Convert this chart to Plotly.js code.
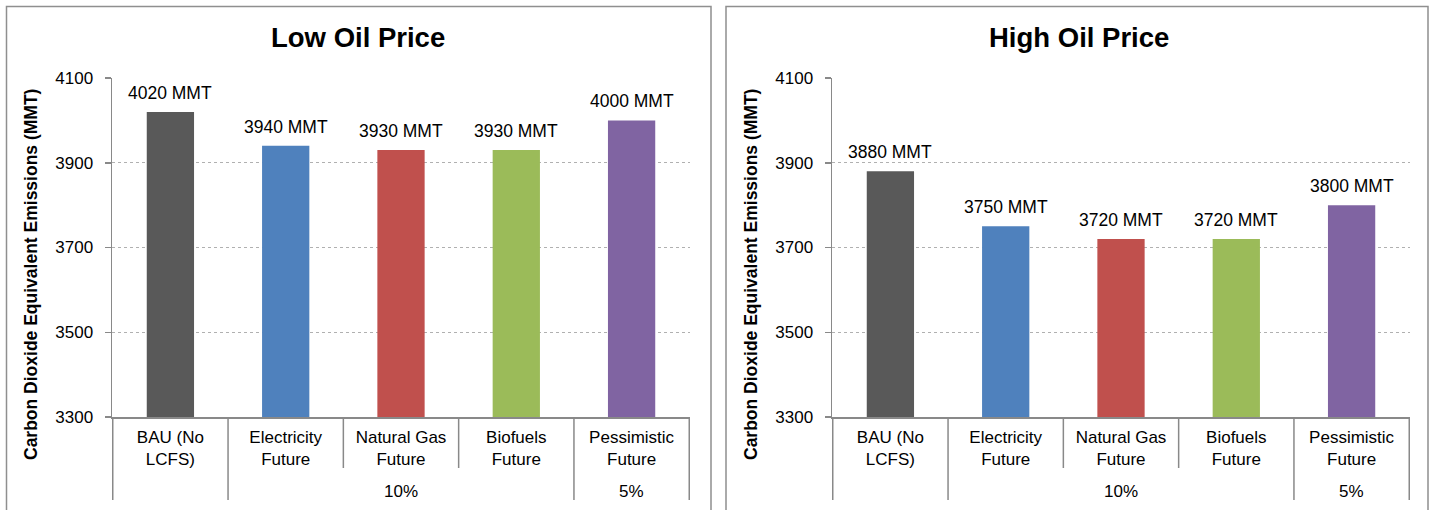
<!DOCTYPE html>
<html>
<head>
<meta charset="utf-8">
<script src="https://cdn.plot.ly/plotly-3.0.1.min.js"></script>
<style>html,body{margin:0;padding:0;background:#fff;}#chart{width:1435px;height:510px;}</style>
</head>
<body>
<div id="chart"></div>
<script>
// ---- data ----
const categories = ["BAU (No<br>LCFS)", "Electricity<br>Future", "Natural Gas<br>Future", "Biofuels<br>Future", "Pessimistic<br>Future"];
const groups = ["", "10%", "10%", "10%", "5%"];
const lowOil = [4020, 3940, 3930, 3930, 4000];
const highOil = [3880, 3750, 3720, 3720, 3800];
const barColors = ["#595959", "#4F81BD", "#C0504D", "#9BBB59", "#8064A2"];
const panelTitles = ["Low Oil Price", "High Oil Price"];
const yTitle = "Carbon Dioxide Equivalent Emissions (MMT)";
const yTicks = [3300, 3500, 3700, 3900, 4100];

// ---- layout helpers (pixel geometry of the page) ----
const W = 1435, H = 510;
const px = v => v / W;
const py = v => 1 - v / H;
const FONT = "Liberation Sans, Arial, sans-serif";
const GRAY = "#898989";

const panels = [
  {vals: lowOil, xa: "x", ya: "y", dom: [px(112), px(690)], left: 6.5, right: 711, ytx: 31, titleX: 358},
  {vals: highOil, xa: "x2", ya: "y2", dom: [px(832), px(1410)], left: 726, right: 1428, ytx: 751, titleX: 1079}
];

const traces = [];
const annotations = [];
const shapes = [];

panels.forEach((p, k) => {
  traces.push({
    type: "bar",
    x: categories,
    y: p.vals,
    xaxis: p.xa,
    yaxis: p.ya,
    marker: {color: barColors},
    hoverinfo: "x+y"
  });
  // value labels
  p.vals.forEach((v, i) => {
    annotations.push({
      xref: p.xa, yref: p.ya, x: categories[i], y: v,
      text: v + " MMT", showarrow: false, xanchor: "center", yanchor: "middle", yshift: 19,
      font: {family: FONT, size: 17.5, color: "#000"}
    });
  });
  // group labels (outer level)
  let start = 0;
  for (let i = 1; i <= groups.length; i++) {
    if (i === groups.length || groups[i] !== groups[start]) {
      if (groups[start] !== "") {
        annotations.push({
          xref: p.xa, yref: "paper", x: (start + i - 1) / 2, y: py(491),
          text: groups[start], showarrow: false, xanchor: "center", yanchor: "middle",
          font: {family: FONT, size: 17, color: "#000"}
        });
      }
      start = i;
    }
  }
  // separators between categories
  for (let i = 0; i <= categories.length; i++) {
    const long = (i === 0 || i === categories.length || groups[i] !== groups[i - 1]);
    shapes.push({
      type: "line", xref: p.xa, yref: "paper",
      x0: i - 0.5, x1: i - 0.5, y0: py(417), y1: py(long ? 500 : 468),
      line: {color: GRAY, width: 1.5}
    });
  }
  // panel title
  annotations.push({
    xref: "paper", yref: "paper", x: px(p.titleX), y: py(38),
    text: "<b>" + panelTitles[k] + "</b>", showarrow: false, xanchor: "center", yanchor: "middle",
    font: {family: FONT, size: 27.5, color: "#000"}
  });
  // y-axis title
  annotations.push({
    xref: "paper", yref: "paper", x: px(p.ytx), y: py(275),
    text: "<b>" + yTitle + "</b>", showarrow: false, textangle: -90,
    xanchor: "center", yanchor: "middle",
    font: {family: FONT, size: 17.5, color: "#000"}
  });
  // panel border
  shapes.push({
    type: "rect", xref: "paper", yref: "paper",
    x0: px(p.left), x1: px(p.right), y0: -0.1, y1: py(6.5),
    line: {color: "#8f8f8f", width: 1.5}
  });
});

const xaxisBase = {
  type: "category", showline: true, linecolor: GRAY, linewidth: 1.5,
  ticks: "", showgrid: false, fixedrange: true,
  tickfont: {family: FONT, size: 17, color: "#000"},
  ticklabelstandoff: 4
};
const yaxisBase = {
  range: [3300, 4100], tickvals: yTicks, showline: true, linecolor: GRAY, linewidth: 1.5,
  ticks: "outside", ticklen: 6, tickcolor: GRAY, tickwidth: 1.5,
  showgrid: true, gridcolor: "#b0b0b0", griddash: "dot", gridwidth: 1,
  zeroline: false, fixedrange: true,
  tickfont: {family: FONT, size: 17, color: "#000"},
  ticklabelstandoff: 8,
  domain: [py(417), py(78)]
};

const layout = {
  width: W, height: H,
  margin: {l: 0, r: 0, t: 0, b: 0},
  paper_bgcolor: "#fff", plot_bgcolor: "#fff",
  showlegend: false,
  bargap: 0.59,
  xaxis: Object.assign({}, xaxisBase, {domain: panels[0].dom, anchor: "y"}),
  xaxis2: Object.assign({}, xaxisBase, {domain: panels[1].dom, anchor: "y2"}),
  yaxis: Object.assign({}, yaxisBase, {anchor: "x"}),
  yaxis2: Object.assign({}, yaxisBase, {anchor: "x2"}),
  annotations: annotations,
  shapes: shapes
};

Plotly.newPlot("chart", traces, layout, {displayModeBar: false, staticPlot: true});
</script>
</body>
</html>
